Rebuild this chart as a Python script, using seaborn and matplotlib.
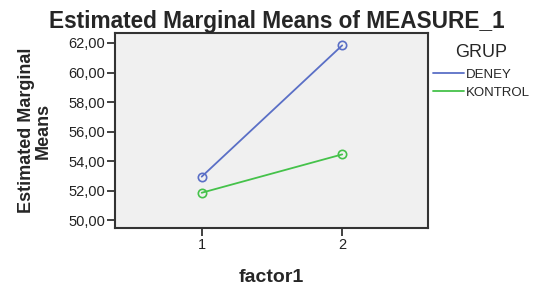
import pandas as pd
import matplotlib
matplotlib.use('Agg')
import matplotlib.pyplot as plt
import matplotlib.ticker as mticker
import seaborn as sns

# --- dados ---
fatores = [1, 2]
grupos = ['DENEY', 'KONTROL']
medias_deney = [52.94, 61.84]
medias_kontrol = [51.85, 54.45]
yticks = [50, 52, 54, 56, 58, 60, 62]
cores = {'DENEY': '#5a6fc6', 'KONTROL': '#45c24a'}

df = pd.DataFrame({
    'factor1': fatores * 2,
    'media': medias_deney + medias_kontrol,
    'GRUP': [grupos[0]] * 2 + [grupos[1]] * 2,
})

sns.set_style('white')
plt.rcParams['font.family'] = ['Liberation Sans', 'DejaVu Sans']

fig = plt.figure(figsize=(5.33, 2.86), dpi=100)
ax = fig.add_axes([0.2158, 0.2017, 0.587, 0.682])
ax.set_facecolor('#f0f0f0')

sns.lineplot(data=df, x='factor1', y='media', hue='GRUP', palette=cores,
             marker='o', markersize=6, markerfacecolor='none', markeredgewidth=1.2,
             linewidth=1.3, ax=ax, legend=False)
for ln, g in zip(ax.lines, grupos):
    ln.set_markeredgecolor(cores[g])

ax.set_xlim(0.383, 2.61)
ax.set_ylim(49.44, 62.66)
ax.set_xticks(fatores)
ax.set_yticks(yticks)
ax.yaxis.set_major_formatter(mticker.FuncFormatter(lambda v, p: f'{v:.2f}'.replace('.', ',')))
ax.tick_params(axis='both', direction='out', length=6, width=1.3, color='#333333',
               labelsize=10.5, labelcolor='#222222', left=True, bottom=True, pad=1)
for s in ax.spines.values():
    s.set_color('#333333')
    s.set_linewidth(1.5)

ax.set_xlabel('factor1', fontsize=14, fontweight='bold', labelpad=12)
ax.set_ylabel('Estimated Marginal\nMeans', fontsize=13, fontweight='bold', labelpad=12,
              linespacing=1.0)
fig.suptitle('Estimated Marginal Means of MEASURE_1', fontsize=16.3, fontweight='bold',
             x=0.519, y=0.965)

handles = [plt.Line2D([], [], color=cores[g], linewidth=1.3) for g in grupos]
leg = ax.legend(handles, grupos, title='GRUP', loc='upper left',
                bbox_to_anchor=(1.0, 0.97), frameon=False, fontsize=9.5,
                title_fontsize=13, handlelength=2.3, handletextpad=0.15,
                labelspacing=0.45, borderaxespad=0)
leg._legend_box.align = 'center'
leg._legend_box.sep = 5

fig.savefig('out.png', dpi=100)
